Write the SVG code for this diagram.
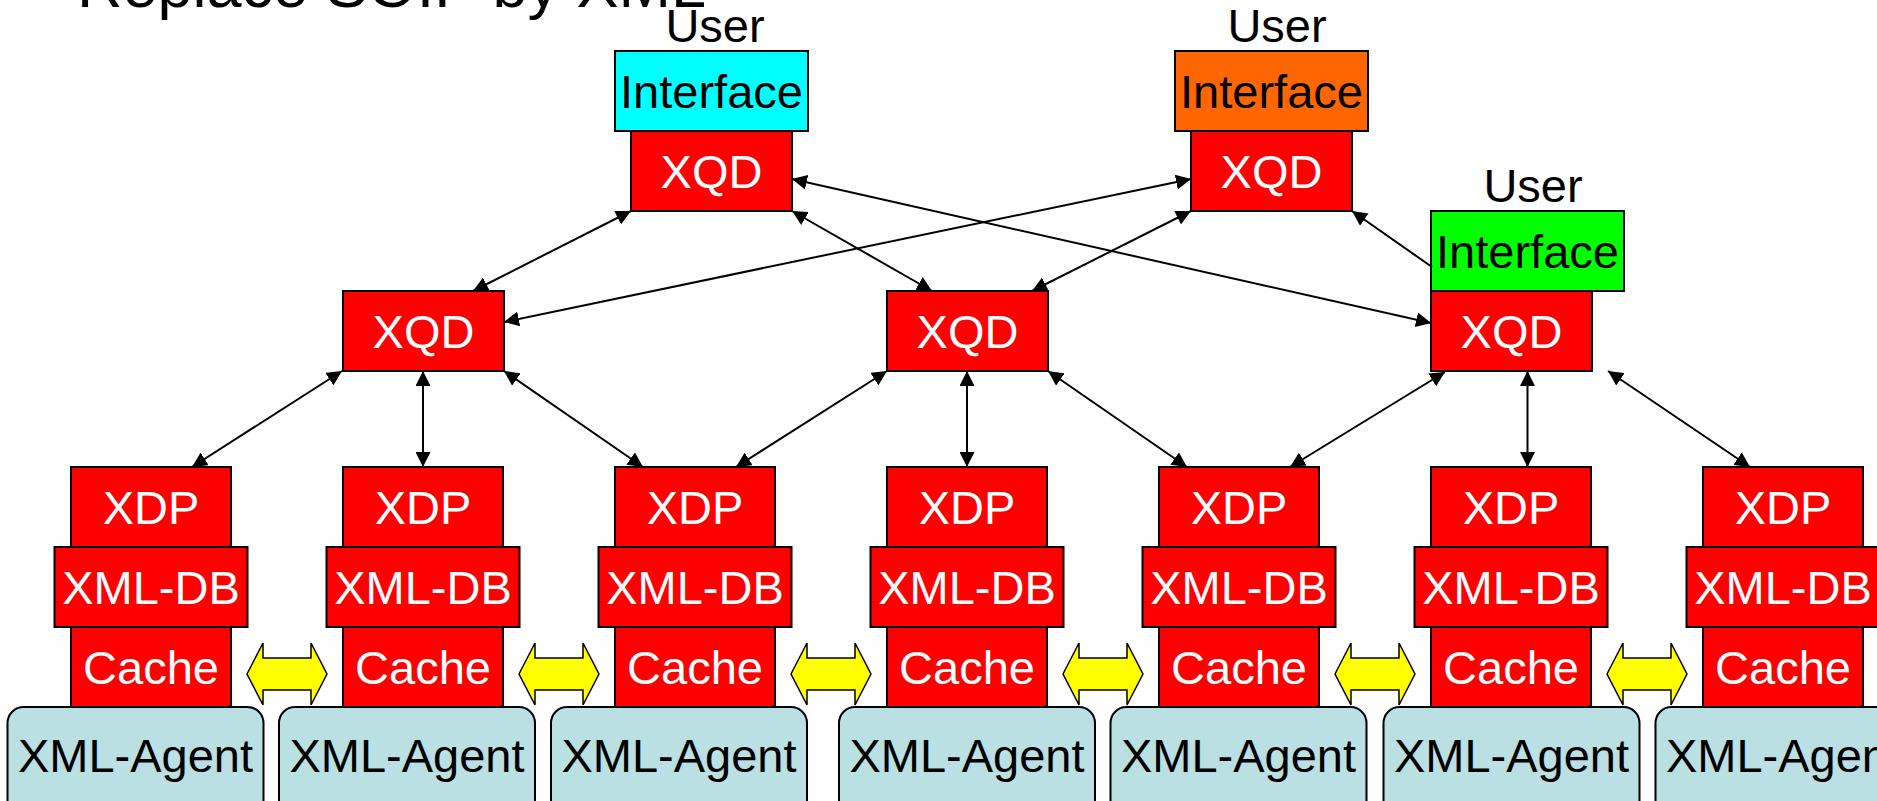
<svg xmlns="http://www.w3.org/2000/svg" width="1877" height="801" viewBox="0 0 1877 801">
  <style>
    text { font-family: "Liberation Sans", Arial, sans-serif; font-size: 47px; text-anchor: middle; }
    .red { fill: #FF0000; stroke: #000; stroke-width: 2; }
    .agent { fill: #BBE0E3; stroke: #000; stroke-width: 2; }
    .swap { fill: #FFFF00; stroke: #000; stroke-width: 1.5; stroke-linejoin: miter; }
    .w { fill: #FFFFFF; }
    .b { fill: #000000; }
    .link { stroke: #000; stroke-width: 2; fill: none; }
    .both { marker-start: url(#head); marker-end: url(#head); }
    .one { marker-end: url(#head); }
  </style>
  <defs>
    <marker id="head" markerUnits="userSpaceOnUse" markerWidth="15" markerHeight="15" refX="15" refY="7.5" orient="auto-start-reverse" viewBox="0 0 15 15">
      <path d="M0,0 L15,7.5 L0,15 Z" fill="#000"/>
    </marker>
    <!-- XDP / XML-DB / Cache column, centred on x=0 -->
    <g id="stack">
      <rect class="red" x="-80" y="467" width="160" height="80"/>
      <rect class="red" x="-80" y="627" width="160" height="80"/>
      <rect class="red" x="-96.5" y="547" width="193" height="80"/>
      <text class="w" x="0" y="524">XDP</text>
      <text class="w" x="0" y="604">XML-DB</text>
      <text class="w" x="0" y="684">Cache</text>
    </g>
    <g id="agentbox">
      <rect class="agent" x="-128" y="707" width="256" height="130" rx="16" ry="16"/>
      <text class="b" x="0" y="772">XML-Agent</text>
    </g>
    <polygon id="swaparrow" class="swap" points="0,674 16,643 16,658 64,658 64,643 80,674 64,705 64,690 16,690 16,705"/>
  </defs>

  <!-- title -->
  <text class="b" x="77" y="7" style="font-size:63px;text-anchor:start">Replace SOIP by XML</text>

  <!-- user interfaces with their query nodes -->
  <g id="ui-cyan">
    <text class="b" x="715" y="42">User</text>
    <rect x="615" y="51" width="193" height="80" fill="#00FFFF" stroke="#000" stroke-width="2"/>
    <text class="b" x="711.5" y="108">Interface</text>
  </g>
  <g id="xqd-top-1">
    <rect class="red" x="631" y="131" width="161" height="80"/>
    <text class="w" x="711.5" y="188">XQD</text>
  </g>

  <g id="ui-orange">
    <text class="b" x="1277" y="42">User</text>
    <rect x="1175" y="51" width="193" height="80" fill="#FF6600" stroke="#000" stroke-width="2"/>
    <text class="b" x="1271.5" y="108">Interface</text>
  </g>
  <g id="xqd-top-2">
    <rect class="red" x="1191" y="131" width="161" height="80"/>
    <text class="w" x="1271.5" y="188">XQD</text>
  </g>

  <g id="ui-green">
    <text class="b" x="1533" y="202">User</text>
    <rect x="1431" y="211" width="193" height="80" fill="#00FF00" stroke="#000" stroke-width="2"/>
    <text class="b" x="1527.5" y="268">Interface</text>
  </g>

  <!-- middle query nodes -->
  <g id="xqd-mid-1">
    <rect class="red" x="343" y="291" width="161" height="80"/>
    <text class="w" x="423.5" y="348">XQD</text>
  </g>
  <g id="xqd-mid-2">
    <rect class="red" x="887" y="291" width="161" height="80"/>
    <text class="w" x="967.5" y="348">XQD</text>
  </g>
  <g id="xqd-mid-3">
    <rect class="red" x="1431" y="291" width="161" height="80"/>
    <text class="w" x="1511.5" y="348">XQD</text>
  </g>

  <!-- peer columns -->
  <g id="agent-1"><use href="#agentbox" x="135.5"/></g>
  <g id="agent-2"><use href="#agentbox" x="407"/></g>
  <g id="agent-3"><use href="#agentbox" x="679"/></g>
  <g id="agent-4"><use href="#agentbox" x="967"/></g>
  <g id="agent-5"><use href="#agentbox" x="1238.5"/></g>
  <g id="agent-6"><use href="#agentbox" x="1511.5"/></g>
  <g id="agent-7"><use href="#agentbox" x="1783.5"/></g>

  <g id="peer-1"><use href="#stack" x="151"/></g>
  <g id="peer-2"><use href="#stack" x="423"/></g>
  <g id="peer-3"><use href="#stack" x="695"/></g>
  <g id="peer-4"><use href="#stack" x="967"/></g>
  <g id="peer-5"><use href="#stack" x="1239"/></g>
  <g id="peer-6"><use href="#stack" x="1511"/></g>
  <g id="peer-7"><use href="#stack" x="1783"/></g>

  <!-- cache exchange arrows -->
  <g id="cache-exchange">
    <use href="#swaparrow" x="247"/>
    <use href="#swaparrow" x="519"/>
    <use href="#swaparrow" x="791"/>
    <use href="#swaparrow" x="1063"/>
    <use href="#swaparrow" x="1335"/>
    <use href="#swaparrow" x="1607"/>
  </g>

  <!-- query connectors -->
  <g id="connectors" class="link">
    <line class="both" x1="631" y1="211" x2="473" y2="291"/>
    <line class="both" x1="792" y1="211" x2="932" y2="291"/>
    <line class="both" x1="792" y1="179" x2="1431" y2="323"/>
    <line class="both" x1="1191" y1="179" x2="504" y2="322"/>
    <line class="both" x1="1191" y1="211" x2="1032" y2="291"/>
    <line class="one" x1="1432" y1="267" x2="1352" y2="211"/>
    <line class="both" x1="342" y1="371" x2="192" y2="467"/>
    <line class="both" x1="423" y1="371" x2="423" y2="467"/>
    <line class="both" x1="504" y1="371" x2="643" y2="467"/>
    <line class="both" x1="887" y1="371" x2="736" y2="467"/>
    <line class="both" x1="967" y1="371" x2="967" y2="467"/>
    <line class="both" x1="1048" y1="371" x2="1187" y2="467"/>
    <line class="both" x1="1445" y1="372" x2="1290" y2="467"/>
    <line class="both" x1="1527.5" y1="371" x2="1527.5" y2="467"/>
    <line class="both" x1="1608" y1="371" x2="1750" y2="467"/>
  </g>
</svg>
